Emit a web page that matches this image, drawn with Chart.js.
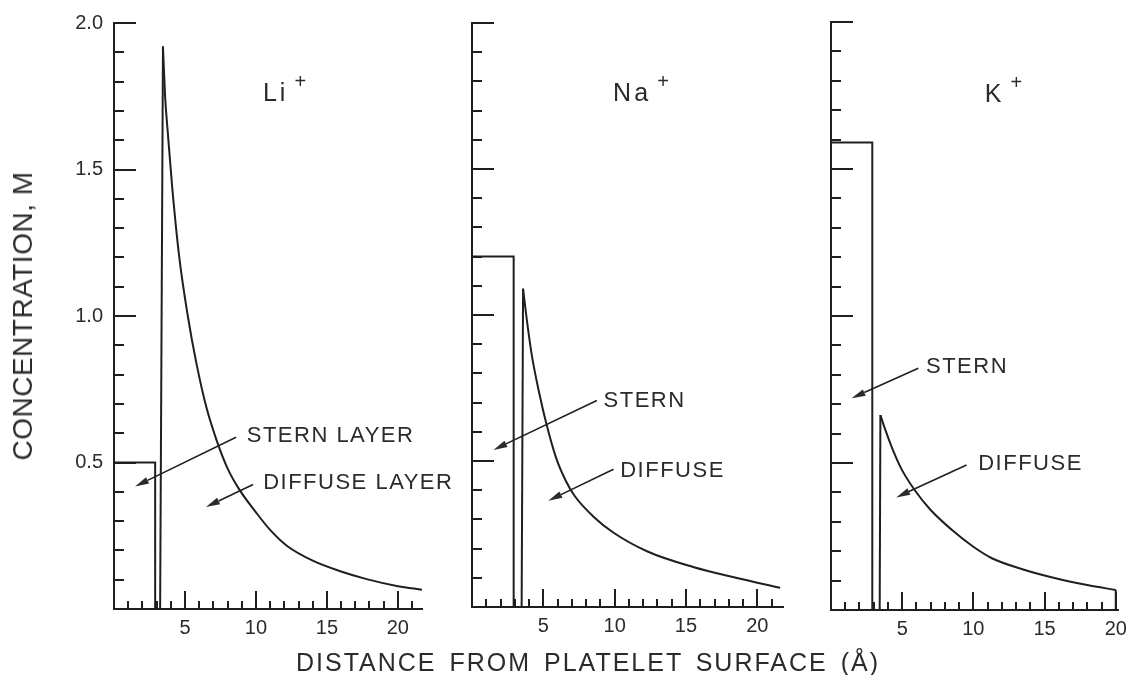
<!DOCTYPE html>
<html><head><meta charset="utf-8">
<script src="https://cdn.jsdelivr.net/npm/chart.js@4.4.1/dist/chart.umd.min.js"></script>
<style>
html,body{margin:0;padding:0;background:#fff;}
#wrap{position:relative;width:1134px;height:675px;overflow:hidden;background:#fff;}
#wrap canvas{position:absolute;left:0;top:0;}
.lab{position:absolute;font-family:"Liberation Sans",Arial,sans-serif;color:#2b2b2b;white-space:nowrap;}
#xt{left:588px;top:662px;font-size:25px;letter-spacing:2px;word-spacing:4px;transform:translate(-50%,-50%);}
#yt{left:23px;top:316px;font-size:28px;letter-spacing:0.5px;transform:translate(-50%,-50%) rotate(-90deg);}
</style></head><body>
<div id="wrap">
<canvas id="c0" width="1134" height="675"></canvas>
<canvas id="c1" width="1134" height="675"></canvas>
<canvas id="c2" width="1134" height="675"></canvas>
<div class="lab" id="xt">DISTANCE FROM PLATELET SURFACE (Å)</div>
<div class="lab" id="yt">CONCENTRATION, M</div>
</div>
<script>
// ---------------- data ----------------
const ions = ['Li', 'Na', 'K'];
const sternConc = [0.5, 1.2, 1.59];        // Stern-layer concentration (M)
const sternEdge = [2.9, 2.92, 2.9];        // outer edge of Stern layer (Å)
const diffuseStart = [3.25, 3.48, 3.42];   // start of diffuse layer (Å)

const liDist = [3.45, 3.6, 3.8, 4.1, 4.6, 5.2, 5.8, 6.5, 7.2, 8.0, 8.8, 10, 11, 12.2, 14, 16, 17.8, 20, 21.7];
const liConc = [1.92, 1.75, 1.62, 1.44, 1.20, 1.00, 0.84, 0.69, 0.58, 0.48, 0.41, 0.33, 0.27, 0.215, 0.165, 0.128, 0.102, 0.078, 0.066];

const naDist = [3.58, 3.8, 4.2, 4.77, 5.2, 5.9, 6.6, 7.2, 8.5, 9.9, 12.3, 15.5, 18.5, 21.6];
const naConc = [1.09, 1.00, 0.86, 0.72, 0.63, 0.51, 0.43, 0.38, 0.31, 0.255, 0.19, 0.137, 0.10, 0.066];

const kDist = [3.47, 3.8, 4.3, 5.0, 5.85, 7.0, 8.5, 10, 11.3, 13.5, 15.7, 18, 20];
const kConc = [0.663, 0.615, 0.55, 0.475, 0.41, 0.34, 0.272, 0.215, 0.176, 0.138, 0.109, 0.085, 0.068];

const xTickLabels = [5, 10, 15, 20];
const yTickLabels = [0.5, 1.0, 1.5, 2.0];
const xMax = [21.7, 21.8, 20.2];
const yMax = 2.0;

// annotations (data units)
const notes = [
  { texts: [{x: 9.35, y: 0.592, t: 'STERN LAYER'}, {x: 10.51, y: 0.429, t: 'DIFFUSE LAYER'}],
    arrows: [[8.6, 0.586, 1.48, 0.418], [9.8, 0.425, 6.48, 0.348]],
    ion: {x: 10.49, y: 1.758} },
  { texts: [{x: 9.22, y: 0.705, t: 'STERN'}, {x: 10.39, y: 0.466, t: 'DIFFUSE'}],
    arrows: [[8.75, 0.707, 1.5, 0.538], [9.92, 0.472, 5.35, 0.364]],
    ion: {x: 9.89, y: 1.757} },
  { texts: [{x: 6.67, y: 0.827, t: 'STERN'}, {x: 10.34, y: 0.497, t: 'DIFFUSE'}],
    arrows: [[6.13, 0.822, 1.44, 0.72], [9.52, 0.493, 4.58, 0.383]],
    ion: {x: 10.8, y: 1.752} }
];

// ---------------- layout ----------------
const W = 1134, H = 675;
const areas = [
  {l: 114, r: 422, t: 21, b: 609},
  {l: 472, r: 783, t: 23, b: 607},
  {l: 831, r: 1121, t: 22, b: 610}
];
const INK = '#1f1f1f', TXT = '#2b2b2b';
const FAM = '"Liberation Sans", Arial, sans-serif';
const curves = [[liDist, liConc], [naDist, naConc], [kDist, kConc]];

const inwardTicks = {
  id: 'inwardTicks',
  afterDraw(chart) {
    const {ctx, chartArea: a, scales: {x, y}} = chart;
    ctx.save();
    ctx.strokeStyle = INK; ctx.lineWidth = 2; ctx.lineCap = 'butt';
    ctx.beginPath();
    x.ticks.forEach(tk => {
      const v = Math.round(tk.value * 1000) / 1000;
      if (v <= 0 || !Number.isInteger(v)) return;
      const px = Math.round(x.getPixelForValue(v));
      const len = v % 5 === 0 ? 18 : 8;
      ctx.moveTo(px, a.bottom); ctx.lineTo(px, a.bottom - len);
    });
    y.ticks.forEach(tk => {
      const v10 = Math.round(tk.value * 10);
      if (v10 <= 0) return;
      const py = Math.round(y.getPixelForValue(v10 / 10));
      const len = v10 % 5 === 0 ? 22 : 10;
      ctx.moveTo(a.left, py); ctx.lineTo(a.left + len, py);
    });
    ctx.stroke();
    ctx.restore();
  }
};

function notesPlugin(i) {
  return {
    id: 'notes' + i,
    afterDraw(chart) {
      const {ctx, scales: {x, y}} = chart;
      const n = notes[i];
      ctx.save();
      ctx.fillStyle = TXT; ctx.strokeStyle = INK;
      ctx.textBaseline = 'middle'; ctx.textAlign = 'left';
      // ion label
      try { ctx.letterSpacing = '3px'; } catch (e) {}
      ctx.font = '25px ' + FAM;
      const ix = x.getPixelForValue(n.ion.x), iy = y.getPixelForValue(n.ion.y);
      ctx.fillText(ions[i], ix, iy);
      const w = ctx.measureText(ions[i]).width;
      try { ctx.letterSpacing = '0px'; } catch (e) {}
      ctx.font = '20px ' + FAM;
      ctx.textAlign = 'center';
      ctx.fillText('+', ix + w + 12, iy - 11);
      ctx.textAlign = 'left';
      // labels
      ctx.font = '22px ' + FAM;
      try { ctx.letterSpacing = '1.5px'; } catch (e) {}
      n.texts.forEach(tx => ctx.fillText(tx.t, x.getPixelForValue(tx.x), y.getPixelForValue(tx.y)));
      // arrows
      ctx.lineWidth = 1.6;
      n.arrows.forEach(([x1, y1, x2, y2]) => {
        const p1 = [x.getPixelForValue(x1), y.getPixelForValue(y1)];
        const p2 = [x.getPixelForValue(x2), y.getPixelForValue(y2)];
        const ang = Math.atan2(p2[1] - p1[1], p2[0] - p1[0]);
        const L = 14, hw = 3.5;
        const bx = p2[0] - L * Math.cos(ang), by = p2[1] - L * Math.sin(ang);
        ctx.beginPath(); ctx.moveTo(p1[0], p1[1]); ctx.lineTo(bx, by); ctx.stroke();
        ctx.beginPath();
        ctx.moveTo(p2[0], p2[1]);
        ctx.lineTo(bx + hw * Math.sin(ang), by - hw * Math.cos(ang));
        ctx.lineTo(bx - hw * Math.sin(ang), by + hw * Math.cos(ang));
        ctx.closePath(); ctx.fill();
      });
      ctx.restore();
    }
  };
}

function lineDs(pts, extra) {
  return Object.assign({data: pts, borderColor: INK, borderWidth: 2, pointRadius: 0,
    tension: 0, fill: false, clip: 6}, extra || {});
}

function makePanel(i) {
  const a = areas[i];
  const [dx, dy] = curves[i];
  const curvePts = dx.map((v, k) => ({x: v, y: dy[k]}));
  const sternPts = [{x: 0, y: sternConc[i]}, {x: sternEdge[i], y: sternConc[i]}, {x: sternEdge[i], y: 0}];
  const risePts = [{x: diffuseStart[i], y: 0}, curvePts[0]];
  const ds = [lineDs(sternPts), lineDs(risePts), lineDs(curvePts, {cubicInterpolationMode: 'monotone'})];
  if (i === 2) {
    const last = curvePts[curvePts.length - 1];
    ds.push(lineDs([last, {x: last.x, y: 0}]));
  }
  new Chart(document.getElementById('c' + i), {
    type: 'line',
    data: {datasets: ds},
    options: {
      responsive: false, animation: false, events: [],
      layout: {padding: {left: 0, right: W - a.r, top: a.t, bottom: 0}},
      plugins: {legend: {display: false}, tooltip: {enabled: false}, title: {display: false}},
      scales: {
        x: {
          type: 'linear', min: 0, max: xMax[i],
          afterFit: s => { s.height = H - a.b; },
          grid: {display: false, drawTicks: false},
          border: {display: true, color: INK, width: 2},
          ticks: {stepSize: 1, autoSkip: false, includeBounds: false, maxRotation: 0,
            padding: 7, color: TXT, font: {family: FAM, size: 20},
            callback: v => xTickLabels.includes(Math.round(v * 1000) / 1000) ? String(Math.round(v)) : ''}
        },
        y: {
          type: 'linear', min: 0, max: yMax,
          afterFit: s => { s.width = a.l; },
          grid: {display: false, drawTicks: false},
          border: {display: true, color: INK, width: 2},
          ticks: {stepSize: 0.1, autoSkip: false, display: i === 0,
            padding: 11, color: TXT, font: {family: FAM, size: 20},
            callback: v => { const r = Math.round(v * 10) / 10; return yTickLabels.includes(r) ? r.toFixed(1) : ''; }}
        }
      }
    },
    plugins: [inwardTicks, notesPlugin(i)]
  });
}
[0, 1, 2].forEach(makePanel);
</script>
</body></html>
